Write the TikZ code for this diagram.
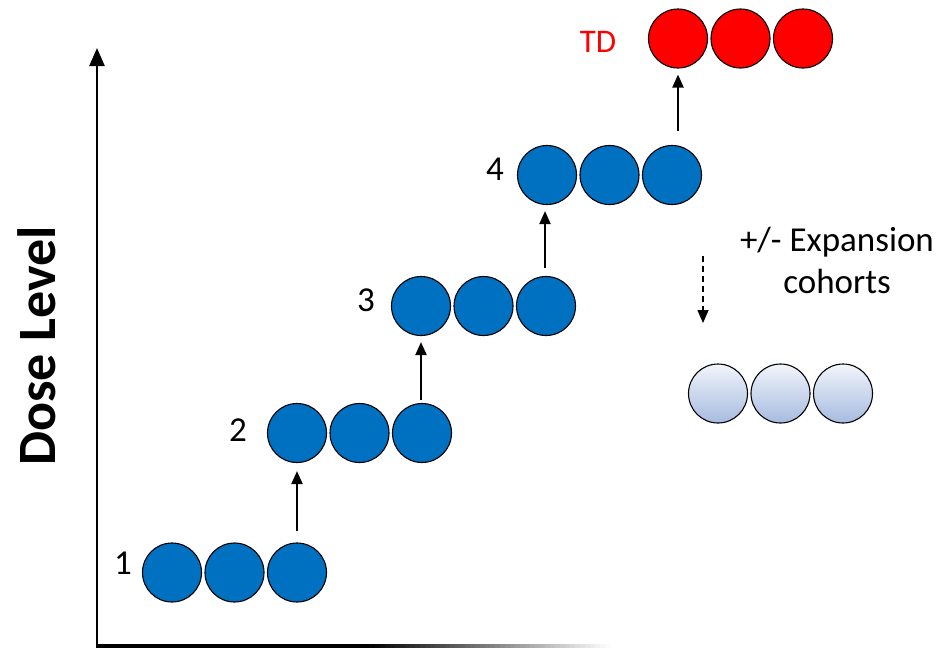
\documentclass[tikz,border=0pt]{standalone}
\usepackage{fontspec}
\setmainfont{Carlito}
\usetikzlibrary{arrows.meta,calc}
\definecolor{dblue}{HTML}{0070C0}
\definecolor{etop}{HTML}{F2F5FB}
\definecolor{ebot}{HTML}{A6BBE0}
\begin{document}
\begin{tikzpicture}[x=1pt,y=-1pt,
  dot/.style={circle,draw=black,line width=1.1pt,minimum size=59pt,inner sep=0pt,fill=dblue},
  rdot/.style={dot,fill=red},
  edot/.style={dot,fill=none,top color=etop,bottom color=ebot},
  uparrow/.style={-{Triangle[width=11pt,length=13pt]},line width=2pt},
  axisline/.style={-{Triangle[width=15pt,length=18pt]},line width=2.4pt},
  lbl/.style={font=\fontsize{35}{40}\selectfont,inner sep=0pt}]
\useasboundingbox (0,0) rectangle (944,648);
% axes
\coordinate (o) at (97,646);
\coordinate (ytop) at (97,48);
\draw[axisline] (o) -- (ytop);
\fill[black] (96,644) rectangle (372,648);
\foreach \i in {0,...,47}{
  \pgfmathsetmacro{\p}{100-100*(\i+0.5)/48}
  \fill[black!\p!white] ({370+5*\i},644) rectangle ({375.6+5*\i},648);
}
\node[rotate=90,font=\fontsize{54}{60}\selectfont\bfseries,inner sep=0pt] (yl) at (37,346) {Dose Level};
% row 1
\node[dot] (a1) at (172,572.5) {};
\node[dot] (a2) at (234.5,572.5) {};
\node[dot] (a3) at (297,572.5) {};
\node[lbl] (l1) at (123,563) {1};
% row 2
\node[dot] (b1) at (297,433) {};
\node[dot] (b2) at (359.5,433) {};
\node[dot] (b3) at (422,433) {};
\node[lbl] (l2) at (238,430) {2};
% row 3
\node[dot] (c1) at (421,306) {};
\node[dot] (c2) at (483.5,306) {};
\node[dot] (c3) at (546,306) {};
\node[lbl] (l3) at (366,300) {3};
% row 4
\node[dot] (d1) at (547,175) {};
\node[dot] (d2) at (609.5,175) {};
\node[dot] (d3) at (672,175) {};
\node[lbl] (l4) at (495,169) {4};
% TD
\node[rdot] (t1) at (678,38.5) {};
\node[rdot] (t2) at (740.5,38.5) {};
\node[rdot] (t3) at (803,38.5) {};
\node[lbl,text=red,font=\fontsize{33}{38}\selectfont] (ltd) at (598,42) {TD};
% expansion
\node[edot] (e1) at (718,393.5) {};
\node[edot] (e2) at (780.5,393.5) {};
\node[edot] (e3) at (843,393.5) {};
\node[lbl,align=center,font=\fontsize{35}{42}\selectfont] (et) at (837,260) {+/- Expansion\\cohorts};
% arrows
\draw[uparrow] ($(a3.north)+(0,-11)$) -- ($(b1.south)+(0,8)$);
\draw[uparrow] ($(b3.north)+(-1,-3)$) -- ($(c1.south)+(0,6)$);
\draw[uparrow] ($(c3.north)+(-1,-8)$) -- ($(d1.south)+(-2,6)$);
\draw[uparrow] ($(t1.south)+(0,62)$) -- ($(t1.south)+(0,6)$);
\coordinate (ds) at (703,256);
\coordinate (de) at (703,323);
\draw[-{Triangle[width=11pt,length=13pt]},line width=1.6pt,dash pattern=on 6pt off 4pt] (ds) -- (de);
\end{tikzpicture}
\end{document}
